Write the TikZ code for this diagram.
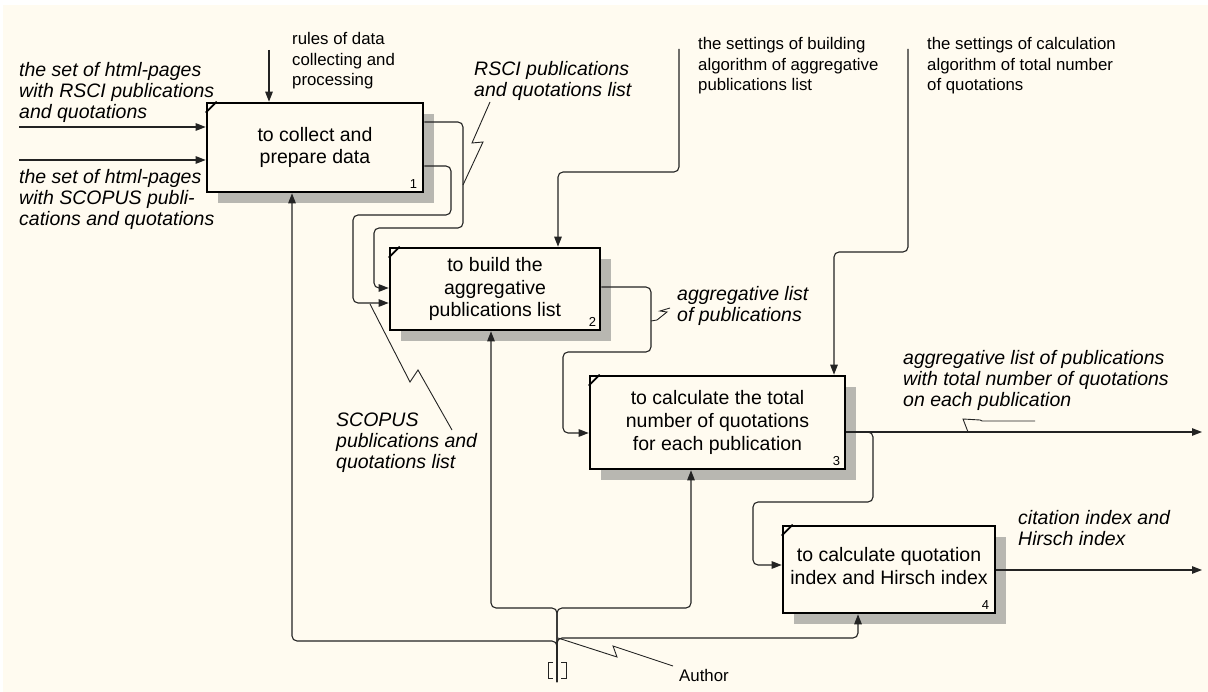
\documentclass[tikz,border=0pt]{standalone}
\usepackage{fontspec}
\setmainfont{Liberation Sans}
\usetikzlibrary{arrows.meta,shadows}
\definecolor{bg}{RGB}{255,251,240}
\definecolor{shade}{RGB}{184,183,177}
\definecolor{ln}{RGB}{35,35,35}
\tikzset{
 box/.style={draw=black, line width=2.6pt, fill=bg, inner sep=0pt, align=center,
   font=\fontsize{19.5}{22.7}\selectfont,
   drop shadow={shadow xshift=11pt, shadow yshift=-11pt, fill=shade, opacity=1}},
 arr/.style={draw=ln, line width=1.1pt, rounded corners=5pt, -{Triangle[length=10pt,width=7.5pt]}},
 squig/.style={draw=ln, line width=0.9pt},
 lab/.style={font=\fontsize{19.5}{21}\selectfont\itshape, align=left, inner sep=0pt, anchor=north west},
 note/.style={font=\fontsize{16.8}{20.5}\selectfont, align=left, inner sep=0pt, anchor=north west},
 num/.style={font=\fontsize{13}{13}\selectfont, inner sep=0pt, anchor=base east},
 cornermark/.style={line width=1.8pt},
}
\begin{document}
\begin{tikzpicture}[x=1pt,y=-1pt]
\fill[white] (0,0) rectangle (1208,692);
\fill[bg] (3,5) rectangle (1208,692);
\useasboundingbox (0,0) rectangle (1208,692);

% boxes
\node[box, minimum width=216pt, minimum height=89pt] (b1) at (315,147.5) {to collect and\\prepare data};
\node[box, minimum width=210pt, minimum height=82pt] (b2) at (495,289) {to build the\\aggregative\\publications list};
\node[box, minimum width=255pt, minimum height=93pt] (b3) at (717.5,422.5) {to calculate the total\\number of quotations\\for each publication};
\node[box, minimum width=212pt, minimum height=87pt] (b4) at (889,569.5) {to calculate quotation\\index and Hirsch index\\[-15.7pt]};

\foreach \b in {b1,b2,b3,b4}
  \draw[cornermark] ([yshift=-11pt]\b.north west) -- ([xshift=11pt]\b.north west);

\node[num] (n1) at ([xshift=-7pt,yshift=5pt]b1.south east) {1};
\node[num] (n2) at ([xshift=-5pt,yshift=5pt]b2.south east) {2};
\node[num] (n3) at ([xshift=-6pt,yshift=5pt]b3.south east) {3};
\node[num] (n4) at ([xshift=-7pt,yshift=5pt]b4.south east) {4};

% labels
\node[lab] (lin1) at (19,62.5) {the set of html-pages\\with RSCI publications\\and quotations};
\node[lab] (lin2) at (19,169.5) {the set of html-pages\\with SCOPUS publi-\\cations and quotations};
\node[note] (lrules) at (292,32.5) {rules of data\\collecting and\\processing};
\node[lab] (lrsci) at (474,61.5) {RSCI publications\\and quotations list};
\node[lab] (lscopus) at (336,413) {SCOPUS\\publications and\\quotations list};
\node[note] (lset2) at (698,37.5) {the settings of building\\algorithm of aggregative\\publications list};
\node[note] (lset3) at (927,37.5) {the settings of calculation\\algorithm of total number\\of quotations};
\node[lab] (lagg) at (677,286.5) {aggregative list\\of publications};
\node[lab] (laggq) at (903,350.5) {aggregative list of publications\\with total number of quotations\\on each publication};
\node[lab] (lcit) at (1018,510.5) {citation index and\\Hirsch index};
\node[note, anchor=west] (lauth) at (679,675) {Author};

% route coordinates
\coordinate (i1) at (19,127);
\coordinate (i2) at (19,160);
\coordinate (c1) at (269,50);
\coordinate (a1) at (463,122); \coordinate (a2) at (463,228);
\coordinate (a3) at (374,228); \coordinate (a4) at (374,288);
\coordinate (s1) at (451,166); \coordinate (s2) at (451,215);
\coordinate (s3) at (353,215); \coordinate (s4) at (353,303);
\coordinate (c2a) at (679,49); \coordinate (c2b) at (679,172); \coordinate (c2c) at (558,172);
\coordinate (c3a) at (908,49); \coordinate (c3b) at (908,252); \coordinate (c3c) at (834,252);
\coordinate (o2a) at (651,287); \coordinate (o2b) at (651,352);
\coordinate (o2c) at (563,352); \coordinate (o2d) at (563,433);
\coordinate (o3) at (1202,432);
\coordinate (o3a) at (873,432); \coordinate (o3b) at (873,502);
\coordinate (o3c) at (753,502); \coordinate (o3d) at (753,565);
\coordinate (o4) at (1202,570);
\coordinate (au) at (557,682);
\coordinate (m1a) at (557,641); \coordinate (m1b) at (292,641);
\coordinate (m2a) at (557,608); \coordinate (m2b) at (491,608); \coordinate (m3b) at (691,608);
\coordinate (m4a) at (557,638); \coordinate (m4b) at (858,638);

% connectors
\draw[arr] (i1) -- (i1 -| b1.west);
\draw[arr] (i2) -- (i2 -| b1.west);
\draw[arr] (c1) -- (c1 |- b1.north);
\draw[arr] (b1.east |- a1) -- (a1) -- (a2) -- (a3) -- (a4) -- (a4 -| b2.west);
\draw[arr] (b1.east |- s1) -- (s1) -- (s2) -- (s3) -- (s4) -- (s4 -| b2.west);
\draw[arr] (c2a) -- (c2b) -- (c2c) -- (c2c |- b2.north);
\draw[arr] (c3a) -- (c3b) -- (c3c) -- (c3c |- b3.north);
\draw[arr] (b2.east |- o2a) -- (o2a) -- (o2b) -- (o2c) -- (o2d) -- (o2d -| b3.west);
\draw[arr] (b3.east |- o3) -- (o3);
\draw[arr] (b3.east |- o3) -- (o3a) -- (o3b) -- (o3c) -- (o3d) -- (o3d -| b4.west);
\draw[arr] (b4.east |- o4) -- (o4);
\draw[arr] (au) -- (m1a) -- (m1b) -- (m1b |- b1.south);
\draw[arr] (au) -- (m2a) -- (m2b) -- (m2b |- b2.south);
\draw[arr] (au) -- (m2a) -- (m3b) -- (m3b |- b3.south);
\draw[arr] (au) -- (m4a) -- (m4b) -- (m4b |- b4.south);

% squiggles (label leaders)
\coordinate (q1a) at (463,185); \coordinate (q1b) at (490,102);
\draw[squig] (q1a) -- (483,142) -- (472,143) -- (q1b);
\coordinate (q2a) at (370,304); \coordinate (q2b) at (452,430);
\draw[squig] (q2a) -- (410,382) -- (418,370) -- (q2b);
\coordinate (q3a) at (651,321); \coordinate (q3b) at (670,308);
\draw[squig] (q3a) -- (657,320) -- (667,312) -- (660,311) -- (q3b);
\coordinate (q4a) at (968,432); \coordinate (q4b) at (1035,421);
\draw[squig] (q4a) -- (963,419) -- (980,420) -- (982,421) -- (q4b);
\coordinate (q5a) at (558,638); \coordinate (q5b) at (673,666);
\draw[squig] (q5a) -- (617,657) -- (613,646) -- (q5b);

% tunnel brackets
\draw[squig, line width=1pt] (553,662) -- (548,662) -- (548,678) -- (553,678);
\draw[squig, line width=1pt] (561,662) -- (566,662) -- (566,678) -- (561,678);
\end{tikzpicture}
\end{document}
